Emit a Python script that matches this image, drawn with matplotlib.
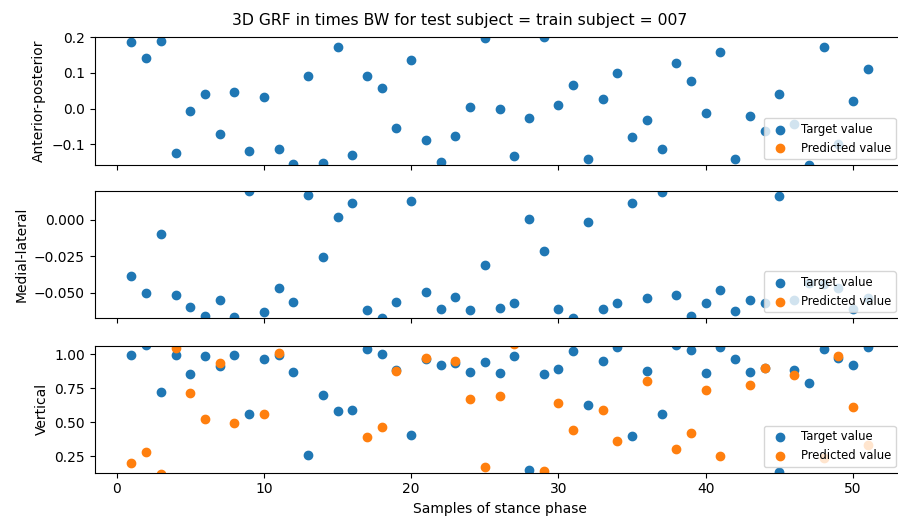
import numpy as np
import matplotlib
matplotlib.use("Agg")
import matplotlib.pyplot as plt

nan = np.nan

samples = np.arange(1, 52)

ap_target = [0.187, 0.142, 0.190, -0.123, -0.007, 0.042, -0.071, 0.048, -0.120, 0.032,
             -0.113, -0.156, 0.091, -0.153, 0.173, -0.129, 0.091, 0.057, -0.055, 0.136,
             -0.089, -0.150, -0.076, 0.005, 0.198, -0.001, -0.134, -0.026, 0.200, 0.010,
             0.066, -0.141, 0.026, 0.100, -0.080, -0.032, -0.113, 0.127, 0.078, -0.013,
             0.158, -0.141, -0.022, -0.062, 0.042, -0.043, -0.158, 0.173, -0.098, 0.021,
             0.111]
ap_predicted = [nan] * 51

ml_target = [-0.0383, -0.0502, -0.0096, -0.0516, -0.0598, -0.0658, -0.0552, -0.0669, 0.0199, -0.0635,
             -0.0470, -0.0562, 0.0172, -0.0254, 0.0023, 0.0119, -0.0619, -0.0676, -0.0562, 0.0133,
             -0.0493, -0.0612, -0.0532, -0.0619, -0.0307, -0.0605, -0.0569, 0.0007, -0.0215, -0.0614,
             -0.0676, -0.0014, -0.0614, -0.0569, 0.0119, -0.0536, 0.0195, -0.0516, -0.0658, -0.0569,
             -0.0479, -0.0628, -0.0552, -0.0569, 0.0163, -0.0552, -0.0435, -0.0442, -0.0470, -0.0612,
             -0.0539]
ml_predicted = [nan] * 51

v_target = [0.993, 1.064, 0.721, 0.993, 0.851, 0.985, 0.912, 0.993, 0.562, 0.963,
            0.993, 0.868, 0.260, 0.699, 0.580, 0.587, 1.039, 1.002, 0.885, 0.406,
            0.963, 0.922, 0.934, 0.868, 0.939, 0.858, 0.985, 0.150, 0.851, 0.892,
            1.020, 0.628, 0.946, 1.049, 0.397, 0.875, 0.558, 1.064, 1.027, 0.858,
            1.054, 0.963, 0.868, 0.900, 0.137, 0.885, 0.787, 1.039, 0.973, 0.917,
            1.054]
v_predicted = [0.199, 0.284, 0.118, 1.046, 0.716, 0.523, 0.932, 0.492, nan, 0.558,
               1.010, nan, nan, nan, nan, nan, 0.389, 0.467, 0.875, nan,
               0.971, nan, 0.946, 0.668, 0.174, 0.692, 1.070, nan, 0.145, 0.643,
               0.443, nan, 0.587, 0.362, nan, 0.802, nan, 0.306, 0.419, 0.738,
               0.250, nan, 0.770, 0.900, nan, 0.844, nan, 0.235, 0.988, 0.611,
               0.333]

components = ["Anterior-posterior", "Medial-lateral", "Vertical"]
targets = [ap_target, ml_target, v_target]
predictions = [ap_predicted, ml_predicted, v_predicted]
y_limits = [(-0.158, 0.200), (-0.0676, 0.0199), (0.130, 1.061)]

W, H = 898, 523
fig = plt.figure(figsize=(W / 100, H / 100), dpi=100)

left_px, right_px = 94.5, 904.6
rows_px = [(37.3, 165.0), (191.0, 318.3), (345.7, 472.7)]

axes = []
for i, (top, bottom) in enumerate(rows_px):
    rect = [left_px / W, 1 - bottom / H, (right_px - left_px) / W, (bottom - top) / H]
    ax = fig.add_axes(rect, sharex=axes[0] if axes else None)
    axes.append(ax)

for ax, name, tgt, prd, lim in zip(axes, components, targets, predictions, y_limits):
    ax.scatter(samples, tgt, label="Target value")
    ax.scatter(samples, prd, label="Predicted value")
    ax.set_ylim(*lim)
    ax.set_ylabel(name)
    ax.legend(loc="lower right", fontsize=8.4,
              bbox_to_anchor=(1 - 3.0 / (right_px - left_px), 0))

for ax in axes[:-1]:
    ax.tick_params(labelbottom=False)

axes[-1].set_xlabel("Samples of stance phase")
axes[0].set_xlim(-1.5, 53.5)

fig.text(460 / W, 1 - 21 / H, "3D GRF in times BW for test subject = train subject = 007",
         ha="center", va="center", fontsize=11.25)

fig.savefig("out.png", dpi=100)
